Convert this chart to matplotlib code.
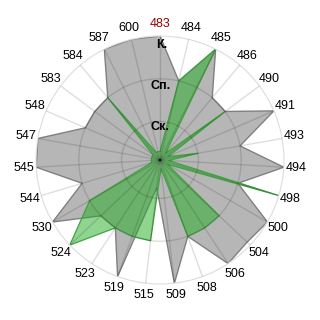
import numpy as np
import matplotlib
matplotlib.use('Agg')
import matplotlib.pyplot as plt

categories = ['483', '484', '485', '486', '490', '491', '493', '494', '498',
              '500', '504', '506', '508', '509', '515', '519', '523', '524',
              '530', '544', '545', '547', '548', '583', '584', '587', '600']

h = 0.3
gray_vals  = [3, 2, 3, 2, 2, 3, 2, 3, 2, 3, 2.9, 3, 2, 3, 0.75, 3, 2, 2,
              3, 2, 3, 3, 2, 2, 2, 3, 3]
green_vals = [h, 2, 3, h, 2, h, 1, h, 3, h, 2, 2, 2, h, 2, 2, 2, 3,
              2, h, h, h, h, h, 2, h, h]

ring_vals   = [1, 2, 3]
ring_labels = ['Ск.', 'Сп.', 'К.']

font = 'Liberation Sans'

###############################################################################

n = len(categories)
angles = np.linspace(0, 2 * np.pi, n, endpoint=False)
theta = np.append(angles, angles[0])

fig = plt.figure(figsize=(3.2, 3.2), dpi=100, facecolor='white')
ax = fig.add_axes([0.1125, 0.1125, 0.775, 0.775], projection='polar')
ax.set_theta_zero_location('N')
ax.set_theta_direction(-1)
ax.set_ylim(0.1, 3)

ax.fill(theta, gray_vals + gray_vals[:1], facecolor='#b6b6b6',
        edgecolor='#808080', linewidth=1, zorder=1)
ax.fill(theta, green_vals + green_vals[:1], facecolor='#21ad21',
        alpha=0.5, edgecolor='none', zorder=1.5)
ax.plot(theta, green_vals + green_vals[:1], color='#42a242', linewidth=0.9,
        zorder=2)

ax.set_xticks(angles)
ax.set_xticklabels([])
ax.set_yticks(ring_vals[:-1])
ax.set_yticklabels([])
ax.set_axisbelow(False)
ax.grid(True, color='black', alpha=0.13, linewidth=1)
ax.spines['polar'].set_color('#dddddd')
ax.tick_params(length=0)

for a, lab in zip(angles, categories):
    col = '#990000' if lab == '483' else 'black'
    ax.text(a, 3.28, lab, ha='center', va='center', fontsize=9,
            fontname=font, color=col, clip_on=False)

for v, lab in zip([0.88, 1.83, 2.79], ring_labels):
    ax.text(0.012, v, lab, ha='center', va='center', fontsize=9,
            fontname=font, fontweight='bold', color='black', zorder=5)

fig.savefig('out.png', dpi=100, facecolor='white')
